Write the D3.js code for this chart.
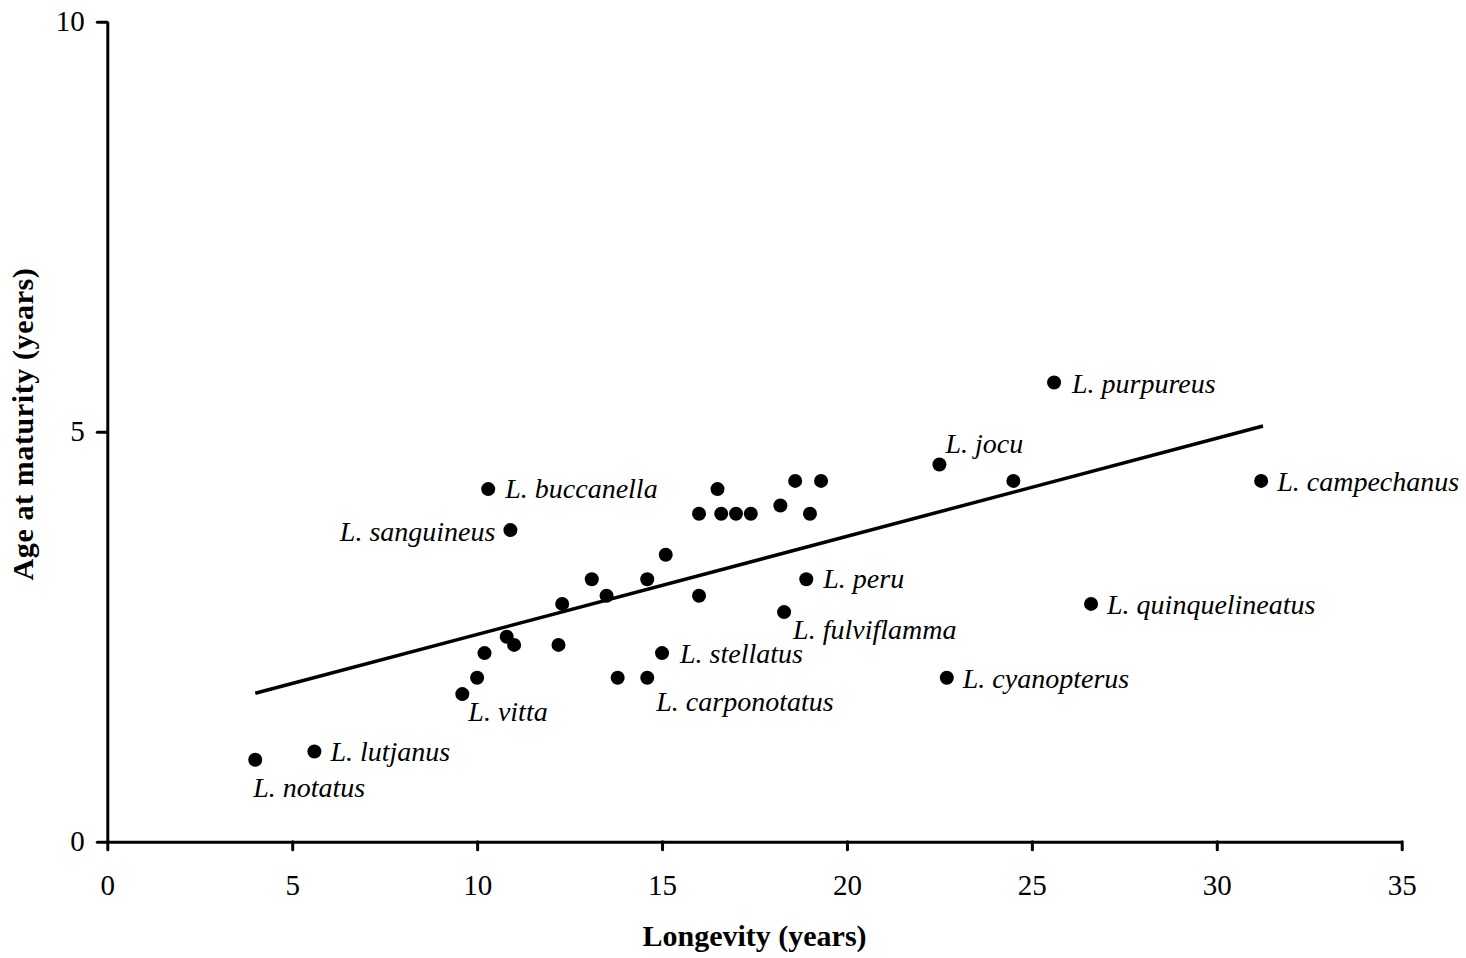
<!DOCTYPE html>
<html>
<head>
<meta charset="utf-8">
<script src="https://cdn.jsdelivr.net/npm/d3@7"></script>
<style>
  html, body { margin: 0; padding: 0; background: #fff; }
  svg { display: block; }
  text { font-family: "Liberation Serif", "Times New Roman", serif; fill: #000; }
</style>
</head>
<body>
<svg id="chart" width="1466" height="958"></svg>
<script>
// ---- data ----
const longevity = [4.0, 5.6, 9.6, 10.0, 10.2, 10.8, 11.0, 10.3, 10.9, 12.2, 12.3, 13.1, 13.5, 13.8, 14.6, 14.6, 15.0, 15.1, 16.0, 16.0, 16.5, 16.6, 17.0, 17.4, 18.2, 18.3, 18.6, 18.9, 19.0, 19.3, 22.5, 24.5, 25.6, 26.6, 22.7, 31.2];
const maturity  = [1.0, 1.1, 1.8, 2.0, 2.3, 2.5, 2.4, 4.3, 3.8, 2.4, 2.9, 3.2, 3.0, 2.0, 2.0, 3.2, 2.3, 3.5, 3.0, 4.0, 4.3, 4.0, 4.0, 4.0, 4.1, 2.8, 4.4, 3.2, 4.0, 4.4, 4.6, 4.4, 5.6, 2.9, 2.0, 4.4];
const species   = ["L. notatus", "L. lutjanus", "L. vitta", "", "", "", "", "L. buccanella", "L. sanguineus", "", "", "", "", "", "L. carponotatus", "", "L. stellatus", "", "", "", "", "", "", "", "", "L. fulviflamma", "", "L. peru", "", "", "L. jocu", "", "L. purpureus", "L. quinquelineatus", "L. cyanopterus", "L. campechanus"];
const trendX = [4.0, 31.25];
const trendY = [1.81, 5.07];
const xTicks = [0, 5, 10, 15, 20, 25, 30, 35];
const yTicks = [0, 5, 10];
const xTitle = "Longevity (years)";
const yTitle = "Age at maturity (years)";

// ---- label layout (pixel offsets from the point) ----
const labelLayout = {
  "L. notatus":        {dx: -2,  dy: 37, anchor: "start"},
  "L. lutjanus":       {dx: 16,  dy: 9,  anchor: "start"},
  "L. vitta":          {dx: 6,   dy: 27, anchor: "start"},
  "L. buccanella":     {dx: 17,  dy: 9,  anchor: "start"},
  "L. sanguineus":     {dx: -15, dy: 11, anchor: "end"},
  "L. carponotatus":   {dx: 9,   dy: 33, anchor: "start"},
  "L. stellatus":      {dx: 18,  dy: 10, anchor: "start"},
  "L. fulviflamma":    {dx: 9,   dy: 27, anchor: "start"},
  "L. peru":           {dx: 17,  dy: 9,  anchor: "start"},
  "L. jocu":           {dx: 6,   dy: -12, anchor: "start"},
  "L. purpureus":      {dx: 18,  dy: 10, anchor: "start"},
  "L. quinquelineatus":{dx: 16,  dy: 10, anchor: "start"},
  "L. cyanopterus":    {dx: 16,  dy: 10, anchor: "start"},
  "L. campechanus":    {dx: 16,  dy: 10, anchor: "start"}
};

const points = longevity.map((x, i) => ({x, y: maturity[i], name: species[i]}));

const svg = d3.select("#chart");
const x = d3.scaleLinear().domain([0, 35]).range([107.3, 1401.7]);
const y = d3.scaleLinear().domain([0, 10]).range([841.7, 21.7]);

const tickFont = 29;

// x axis
const gx = svg.append("g").attr("transform", `translate(0,${y(0)})`)
  .call(d3.axisBottom(x).tickValues(xTicks).tickSize(8).tickSizeOuter(0).tickFormat(d3.format("d")));
gx.select(".domain").attr("stroke", "#000").attr("stroke-width", 3);
gx.selectAll(".tick line").attr("stroke", "#000").attr("stroke-width", 3).attr("stroke-linecap", "round");
gx.selectAll(".tick text").attr("y", 53).attr("dy", 0)
  .style("font-family", '"Liberation Serif", serif').style("font-size", tickFont + "px").attr("fill", "#000");

// y axis
const gy = svg.append("g").attr("transform", `translate(${x(0)},0)`)
  .call(d3.axisLeft(y).tickValues(yTicks).tickSize(10).tickSizeOuter(0).tickPadding(12.5).tickFormat(d3.format("d")));
gy.select(".domain").attr("stroke", "#000").attr("stroke-width", 3);
gy.selectAll(".tick line").attr("stroke", "#000").attr("stroke-width", 3).attr("stroke-linecap", "round");
gy.selectAll(".tick text").attr("dy", "0.30em")
  .style("font-family", '"Liberation Serif", serif').style("font-size", tickFont + "px").attr("fill", "#000");

// trend line
svg.append("line")
  .attr("x1", x(trendX[0])).attr("y1", y(trendY[0]))
  .attr("x2", x(trendX[1])).attr("y2", y(trendY[1]))
  .attr("stroke", "#000").attr("stroke-width", 3.5);

// points
svg.append("g").selectAll("circle").data(points).join("circle")
  .attr("cx", d => x(d.x)).attr("cy", d => y(d.y))
  .attr("r", 7).attr("fill", "#000");

// labels
svg.append("g").selectAll("text").data(points.filter(d => d.name)).join("text")
  .attr("x", d => x(d.x) + labelLayout[d.name].dx)
  .attr("y", d => y(d.y) + labelLayout[d.name].dy)
  .attr("text-anchor", d => labelLayout[d.name].anchor)
  .style("font-style", "italic").style("font-size", "28px")
  .text(d => d.name);

// axis titles
svg.append("text")
  .attr("x", (x(0) + x(35)) / 2).attr("y", 946)
  .attr("text-anchor", "middle")
  .style("font-weight", "bold").style("font-size", "30px")
  .text(xTitle);

svg.append("text")
  .attr("transform", `translate(33,424) rotate(-90)`)
  .attr("text-anchor", "middle")
  .style("font-weight", "bold").style("font-size", "30px").style("letter-spacing", "0.6px")
  .text(yTitle);
</script>
</body>
</html>
